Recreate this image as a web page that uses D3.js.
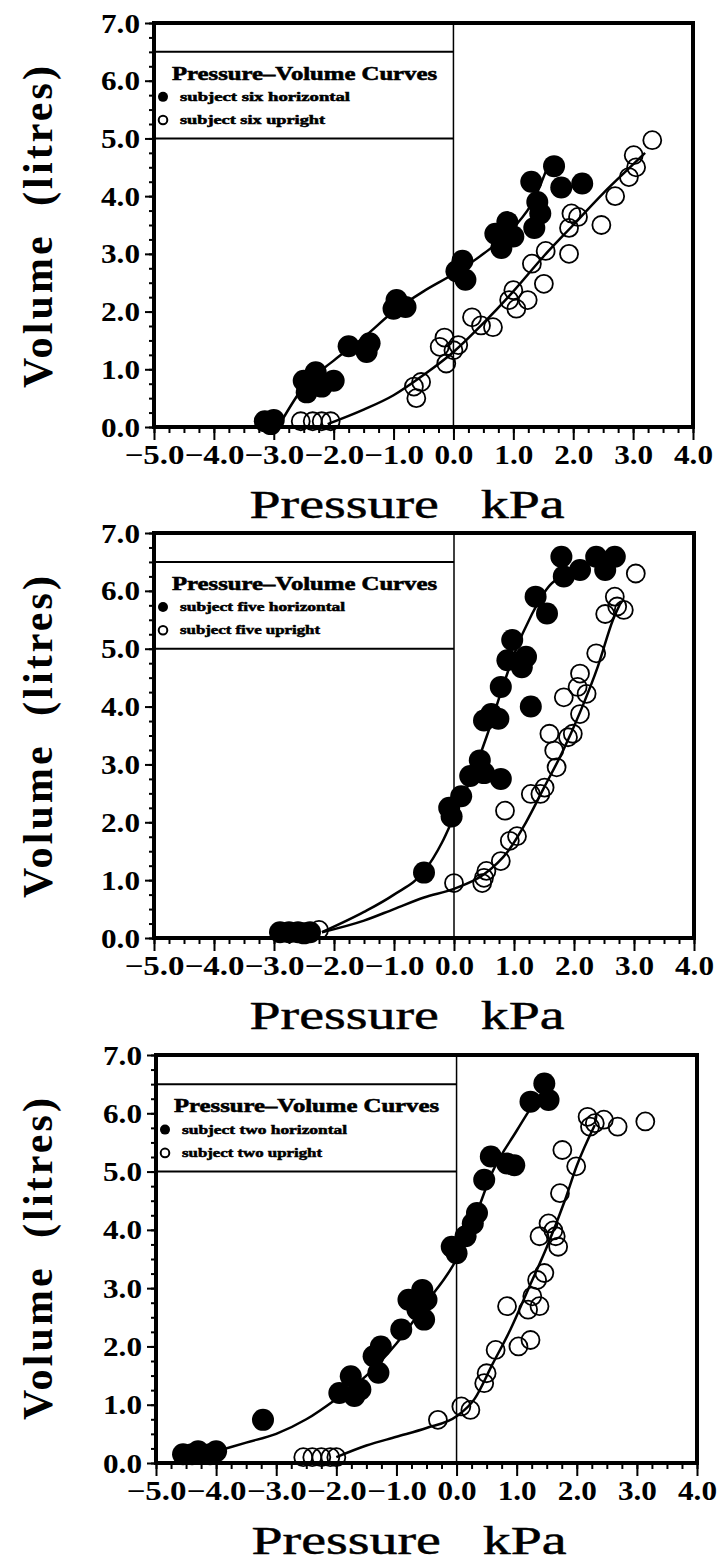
<!DOCTYPE html>
<html>
<head>
<meta charset="utf-8">
<script src="https://cdn.jsdelivr.net/npm/d3@7"></script>
<style>
body { margin: 0; background: #fff; }
</style>
</head>
<body>
<div id="chart"></div>
<script>
const xTicks = [-5, -4, -3, -2, -1, 0, 1, 2, 3, 4];
const yTicks = [0, 1, 2, 3, 4, 5, 6, 7];

// subject six
const sixHorizontal = [[-3.15, 0.1], [-3.0, 0.12], [-3.05, 0.05], [-2.5, 0.8], [-2.45, 0.6], [-2.3, 0.95], [-2.2, 0.7],
    [-2.0, 0.8], [-1.75, 1.4], [-1.45, 1.3], [-1.4, 1.45], [-1.0, 2.05], [-0.95, 2.2], [-0.8, 2.08],
    [0.05, 2.7], [0.15, 2.88], [0.2, 2.55], [0.7, 3.35], [0.8, 3.1], [0.9, 3.55], [1.0, 3.3],
    [1.3, 4.25], [1.35, 3.45], [1.4, 3.9], [1.45, 3.7], [1.68, 4.52], [1.8, 4.15], [2.15, 4.22]];
const sixUpright = [[-2.55, 0.1], [-2.35, 0.1], [-2.2, 0.1], [-2.05, 0.1], [-0.66, 0.7], [-0.62, 0.5], [-0.54, 0.78],
    [-0.23, 1.39], [-0.15, 1.55], [-0.12, 1.1], [0.0, 1.33], [0.08, 1.42], [0.31, 1.9], [0.46, 1.76],
    [0.66, 1.73], [0.93, 2.2], [1.0, 2.37], [1.05, 2.05], [1.24, 2.2], [1.31, 2.83], [1.51, 2.48], [1.54, 3.05],
    [1.93, 3.0], [1.97, 3.7], [1.93, 3.45], [2.08, 3.64], [2.47, 3.5], [2.7, 4.0], [2.93, 4.33],
    [3.01, 4.71], [3.05, 4.5], [3.32, 4.97]];
const sixHorizontalFit = [[-2.9, 0.05], [-2.5, 0.7], [-2.0, 1.15], [-1.5, 1.55], [-1.0, 2.0], [-0.5, 2.35],
    [0.0, 2.65], [0.5, 3.0], [1.0, 3.45], [1.35, 3.95], [1.55, 4.45]];
const sixUprightFit = [[-2.1, 0.05], [-1.5, 0.3], [-1.0, 0.55], [-0.5, 0.9], [0.0, 1.3], [0.5, 1.8], [1.0, 2.35],
    [1.5, 2.95], [2.0, 3.5], [2.5, 4.05], [3.0, 4.55], [3.2, 4.75]];

// subject five
const fiveHorizontal = [[-2.9, 0.1], [-2.75, 0.1], [-2.6, 0.1], [-2.5, 0.08], [-2.4, 0.1], [-0.5, 1.13],
    [-0.08, 2.25], [-0.04, 2.1], [0.12, 2.45], [0.27, 2.8], [0.43, 3.07], [0.5, 2.85], [0.78, 2.75],
    [0.5, 3.76], [0.62, 3.87], [0.74, 3.79], [0.78, 4.34], [0.89, 4.8], [0.97, 5.15], [1.13, 4.68], [1.2, 4.86],
    [1.28, 4.0], [1.36, 5.9], [1.55, 5.61], [1.79, 6.59], [1.83, 6.25], [2.1, 6.36], [2.37, 6.59],
    [2.68, 6.59], [2.52, 6.36]];
const fiveUpright = [[-2.25, 0.14], [0.0, 0.95], [0.47, 0.95], [0.5, 1.04], [0.54, 1.16], [0.78, 1.33],
    [0.93, 1.68], [1.05, 1.76], [0.85, 2.2], [1.28, 2.49], [1.44, 2.49], [1.51, 2.6], [1.71, 2.95],
    [1.67, 3.24], [1.59, 3.53], [1.9, 3.47], [1.98, 3.53], [1.83, 4.16], [2.1, 3.87], [2.06, 4.34],
    [2.21, 4.22], [2.1, 4.57], [2.37, 4.92], [2.52, 5.6], [2.68, 5.9], [2.83, 5.67], [2.72, 5.73], [3.03, 6.3]];
const fiveHorizontalFit = [[-2.2, 0.1], [-1.5, 0.45], [-1.0, 0.75], [-0.5, 1.15], [-0.2, 1.65], [0.0, 2.1],
    [0.3, 2.8], [0.55, 3.5], [0.8, 4.3], [1.0, 4.9], [1.3, 5.6], [1.6, 6.1], [1.8, 6.25]];
const fiveUprightFit = [[-2.2, 0.1], [-1.5, 0.3], [-1.0, 0.5], [-0.5, 0.7], [0.0, 0.85], [0.5, 1.1], [0.9, 1.5],
    [1.2, 2.0], [1.5, 2.6], [1.8, 3.2], [2.1, 3.9], [2.4, 4.7], [2.65, 5.5], [2.78, 5.8]];

// subject two
const twoHorizontal = [[-4.55, 0.15], [-4.4, 0.15], [-4.3, 0.2], [-4.1, 0.15], [-4.0, 0.2], [-3.22, 0.74],
    [-1.95, 1.2], [-1.76, 1.49], [-1.6, 1.26], [-1.7, 1.15], [-1.38, 1.83], [-1.26, 2.0], [-1.3, 1.55],
    [-0.92, 2.29], [-0.8, 2.8], [-0.65, 2.63], [-0.57, 2.97], [-0.5, 2.8], [-0.54, 2.46],
    [-0.08, 3.71], [0.0, 3.6], [0.15, 3.89], [0.27, 4.11], [0.34, 4.29], [0.46, 4.86], [0.57, 5.26],
    [0.84, 5.14], [0.96, 5.11], [1.23, 6.2], [1.46, 6.51], [1.53, 6.23]];
const twoUpright = [[-2.55, 0.1], [-2.4, 0.1], [-2.25, 0.1], [-2.1, 0.1], [-2.0, 0.1], [-0.31, 0.74],
    [0.08, 0.97], [0.23, 0.91], [0.46, 1.37], [0.5, 1.54], [0.65, 1.94], [0.84, 2.69], [1.03, 2.0],
    [1.23, 2.11], [1.19, 2.63], [1.26, 2.86], [1.38, 2.69], [1.34, 3.14], [1.46, 3.26], [1.38, 3.89],
    [1.53, 4.11], [1.61, 3.99], [1.69, 3.71], [1.65, 3.89], [1.72, 4.63], [1.99, 5.09], [1.76, 5.37],
    [2.18, 5.94], [2.3, 5.83], [2.22, 5.77], [2.45, 5.89], [2.68, 5.77], [3.14, 5.86]];
const twoHorizontalFit = [[-4.0, 0.2], [-3.5, 0.35], [-3.0, 0.5], [-2.5, 0.75], [-2.0, 1.1], [-1.5, 1.5],
    [-1.0, 2.05], [-0.5, 2.75], [0.0, 3.5], [0.3, 4.2], [0.6, 5.0], [1.0, 5.7], [1.3, 6.2]];
const twoUprightFit = [[-2.0, 0.1], [-1.5, 0.3], [-1.0, 0.45], [-0.5, 0.6], [0.0, 0.8], [0.3, 1.1], [0.6, 1.7],
    [0.9, 2.3], [1.2, 3.0], [1.5, 3.7], [1.8, 4.5], [2.0, 5.1], [2.3, 5.8]];

const legendTitle = 'Pressure\u2013Volume Curves';

const panels = [
    { subject: 'six', filled: sixHorizontal, open: sixUpright, filledFit: sixHorizontalFit, openFit: sixUprightFit,
      left: 154, right: 693, top: 23, bottom: 427 },
    { subject: 'five', filled: fiveHorizontal, open: fiveUpright, filledFit: fiveHorizontalFit, openFit: fiveUprightFit,
      left: 154, right: 694, top: 533, bottom: 938 },
    { subject: 'two', filled: twoHorizontal, open: twoUpright, filledFit: twoHorizontalFit, openFit: twoUprightFit,
      left: 156, right: 697, top: 1055, bottom: 1463 }
];

const svg = d3.select('#chart').append('svg')
    .attr('width', 721)
    .attr('height', 1563)
    .style('background', '#fff');

const serifFont = "'Liberation Serif', 'DejaVu Serif', serif";
const fmt = d3.format('.1f');

// wide typewriter-ish tick labels
function styleTickText(sel, shift) {
    sel.attr('font-family', serifFont)
        .attr('font-weight', 'bold')
        .attr('font-size', 24)
        .attr('fill', '#000')
        .attr('transform', shift)
        .attr('textLength', d => d < 0 ? 60 : 39)
        .attr('lengthAdjust', 'spacingAndGlyphs');
}

panels.forEach(p => {
    const g = svg.append('g');

    const x = d3.scaleLinear().domain([-5, 4]).range([p.left, p.right]);
    const y = d3.scaleLinear().domain([0, 7]).range([p.bottom, p.top]);

    // minor ticks
    g.append('g')
        .attr('transform', `translate(0,${p.bottom})`)
        .call(d3.axisBottom(x).tickValues(d3.range(-5, 4.001, 0.25)).tickFormat('').tickSize(6).tickSizeOuter(0))
        .call(a => a.select('.domain').remove())
        .selectAll('line').attr('stroke-width', 2);
    g.append('g')
        .attr('transform', `translate(${p.left},0)`)
        .call(d3.axisLeft(y).tickValues(d3.range(0, 7.001, 0.25)).tickFormat('').tickSize(5).tickSizeOuter(0))
        .call(a => a.select('.domain').remove())
        .selectAll('line').attr('stroke-width', 2);

    // major ticks + labels
    const xAxis = g.append('g')
        .attr('transform', `translate(0,${p.bottom})`)
        .call(d3.axisBottom(x).tickValues(xTicks).tickFormat(fmt).tickSize(13).tickSizeOuter(0));
    xAxis.select('.domain').remove();
    xAxis.selectAll('line').attr('stroke-width', 2);
    xAxis.selectAll('text')
        .attr('y', 0).attr('dy', 0)
        .call(styleTickText, 'translate(0,37) scale(1,1.1)');

    const yAxis = g.append('g')
        .attr('transform', `translate(${p.left},0)`)
        .call(d3.axisLeft(y).tickValues(yTicks).tickFormat(fmt).tickSize(9).tickSizeOuter(0));
    yAxis.select('.domain').remove();
    yAxis.selectAll('line').attr('stroke-width', 2);
    yAxis.selectAll('text')
        .attr('x', 0).attr('dy', 0)
        .call(styleTickText, 'translate(-14,9) scale(1,1.1)');

    // frame
    g.append('rect')
        .attr('x', p.left).attr('y', p.top)
        .attr('width', p.right - p.left).attr('height', p.bottom - p.top)
        .attr('fill', 'none').attr('stroke', '#000').attr('stroke-width', 4);

    // zero line
    g.append('line')
        .attr('x1', x(0)).attr('x2', x(0))
        .attr('y1', p.top).attr('y2', p.bottom)
        .attr('stroke', '#000').attr('stroke-width', 1.5);

    // legend box
    [6.5, 5.0].forEach(v => {
        g.append('line')
            .attr('x1', p.left).attr('x2', x(0))
            .attr('y1', y(v)).attr('y2', y(v))
            .attr('stroke', '#000').attr('stroke-width', 2);
    });
    g.append('text')
        .attr('x', p.left + 18).attr('y', y(6.02))
        .attr('font-family', serifFont).attr('font-weight', 'bold').attr('font-size', 19)
        .attr('stroke', '#000').attr('stroke-width', 0.6)
        .attr('textLength', 265).attr('lengthAdjust', 'spacingAndGlyphs')
        .text(legendTitle);
    g.append('circle')
        .attr('cx', p.left + 9).attr('cy', y(5.72)).attr('r', 5).attr('fill', '#000');
    g.append('circle')
        .attr('cx', p.left + 9).attr('cy', y(5.32)).attr('r', 4.3)
        .attr('fill', 'none').attr('stroke', '#000').attr('stroke-width', 2);
    g.append('text')
        .attr('x', p.left + 26).attr('y', y(5.72) + 4)
        .attr('font-family', serifFont).attr('font-weight', 'bold').attr('font-size', 12)
        .attr('stroke', '#000').attr('stroke-width', 0.5)
        .attr('textLength', p.subject === 'six' ? 170 : 165).attr('lengthAdjust', 'spacingAndGlyphs')
        .text(`subject ${p.subject} horizontal`);
    g.append('text')
        .attr('x', p.left + 26).attr('y', y(5.32) + 4)
        .attr('font-family', serifFont).attr('font-weight', 'bold').attr('font-size', 12)
        .attr('stroke', '#000').attr('stroke-width', 0.5)
        .attr('textLength', p.subject === 'six' ? 145 : 140).attr('lengthAdjust', 'spacingAndGlyphs')
        .text(`subject ${p.subject} upright`);

    // fitted curves
    const line = d3.line()
        .x(d => x(d[0]))
        .y(d => y(d[1]))
        .curve(d3.curveMonotoneX);
    [p.filledFit, p.openFit].forEach(fit => {
        g.append('path')
            .attr('d', line(fit))
            .attr('fill', 'none')
            .attr('stroke', '#000')
            .attr('stroke-width', 2.5);
    });

    // points
    g.selectAll('.filled')
        .data(p.filled)
        .join('circle')
        .attr('class', 'filled')
        .attr('cx', d => x(d[0]))
        .attr('cy', d => y(d[1]))
        .attr('r', 11)
        .attr('fill', '#000');
    g.selectAll('.open')
        .data(p.open)
        .join('circle')
        .attr('class', 'open')
        .attr('cx', d => x(d[0]))
        .attr('cy', d => y(d[1]))
        .attr('r', 9)
        .attr('fill', 'none')
        .attr('stroke', '#000')
        .attr('stroke-width', 1.8);

    // axis titles
    g.append('text')
        .attr('transform', `translate(${p.left + 253},${p.bottom + 91}) scale(1,1.15)`)
        .attr('text-anchor', 'middle')
        .attr('font-family', serifFont)
        .attr('font-size', 34)
        .attr('stroke', '#000').attr('stroke-width', 0.4)
        .style('white-space', 'pre')
        .attr('textLength', 315).attr('lengthAdjust', 'spacingAndGlyphs')
        .text('Pressure   kPa');
    g.append('text')
        .attr('transform', `translate(52,${p.top + 204}) rotate(-90)`)
        .attr('text-anchor', 'middle')
        .attr('font-family', serifFont)
        .attr('font-weight', 'bold')
        .attr('font-size', 42)
        .style('white-space', 'pre')
        .attr('textLength', 322).attr('lengthAdjust', 'spacing')
        .text('Volume  (litres)');
});
</script>
</body>
</html>
